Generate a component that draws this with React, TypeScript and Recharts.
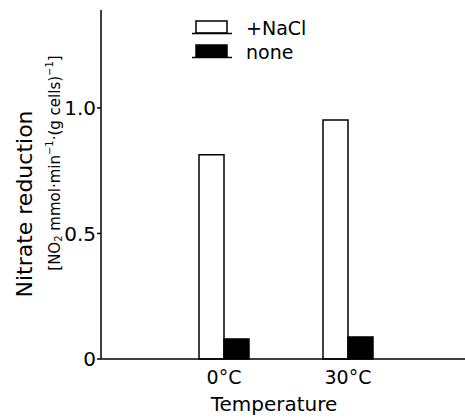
import React from "react";
import { BarChart, Bar, XAxis, YAxis } from "recharts";

const categories = ["0°C", "30°C"];
const naclValues = [0.813, 0.952];
const noneValues = [0.08, 0.088];
const yTicks = [0, 0.5, 1.0];
const yTickLabels = ["0", "0.5", "1.0"];
const seriesNames = ["+NaCl", "none"];

const data = categories.map((c, i) => ({ cat: c, nacl: naclValues[i], none: noneValues[i] }));

const FONT = "DejaVu Sans";

const YLabel = () => {
  return (
    <g fontFamily={FONT} fill="#000">
      <text x={24} y={204} transform={`rotate(-90 24 204)`} textAnchor="middle" dominantBaseline="central" fontSize={22}>
        Nitrate reduction
      </text>
      <text x={55} y={163} transform={`rotate(-90 55 163)`} textAnchor="middle" dominantBaseline="central" fontSize={15}>
        [NO<tspan fontSize={10} dy={3}>2</tspan>
        <tspan dy={-3}> mmol·min</tspan>
        <tspan fontSize={10} dy={-6}>−1</tspan>
        <tspan dy={6}>·(g cells)</tspan>
        <tspan fontSize={10} dy={-6}>−1</tspan>
        <tspan dy={6}>]</tspan>
      </text>
    </g>
  );
};

const XLabel = () => (
  <text x={274} y={404} textAnchor="middle" dominantBaseline="central" fontSize={20} fontFamily={FONT} fill="#000">
    Temperature
  </text>
);

const LegendBox = () => (
  <div style={{ position: "absolute", left: 192, top: 16, fontFamily: FONT, fontSize: 19, color: "#000" }}>
    {seriesNames.map((n, i) => (
      <div key={n} style={{ display: "flex", alignItems: "center", height: 24 }}>
        <svg width={40} height={16} style={{ marginRight: 14 }}>
          <rect x={4} y={1} width={31} height={12} fill={i === 0 ? "#fff" : "#000"} stroke="#000" strokeWidth={1.5} />
          <line x1={0} y1={13.5} x2={40} y2={13.5} stroke="#000" strokeWidth={1.5} />
        </svg>
        <span>{n}</span>
      </div>
    ))}
  </div>
);

export default function App() {
  return (
    <div style={{ position: "absolute", left: 0, top: 0, width: 465, height: 419, background: "#fff" }}>
      <BarChart
        width={465}
        height={419}
        data={data}
        margin={{ top: 10, right: 0, bottom: 0, left: 0 }}
        barGap={0}
      >
        <XAxis
          dataKey="cat"
          padding={{ left: 61, right: 55 }}
          tickLine={false}
          axisLine={{ stroke: "#000", strokeWidth: 1.5 }}
          tick={{ fill: "#000", fontSize: 19, fontFamily: FONT }}
          tickMargin={6}
          height={60}
          label={<XLabel />}
        />
        <YAxis
          domain={[0, 1.39]}
          ticks={yTicks}
          tickFormatter={(v: number) => yTickLabels[yTicks.indexOf(v)] ?? String(v)}
          width={101}
          tickSize={4}
          tickLine={{ stroke: "#000", strokeWidth: 1.5 }}
          axisLine={{ stroke: "#000", strokeWidth: 1.5 }}
          tick={{ fill: "#000", fontSize: 20, fontFamily: FONT }}
          tickMargin={1}
          label={<YLabel />}
        />
        <Bar dataKey="nacl" name={seriesNames[0]} fill="#fff" stroke="#000" strokeWidth={1.5} barSize={25} isAnimationActive={false} />
        <Bar dataKey="none" name={seriesNames[1]} fill="#000" stroke="#000" strokeWidth={1.5} barSize={25} isAnimationActive={false} />
      </BarChart>
      <LegendBox />
    </div>
  );
}
